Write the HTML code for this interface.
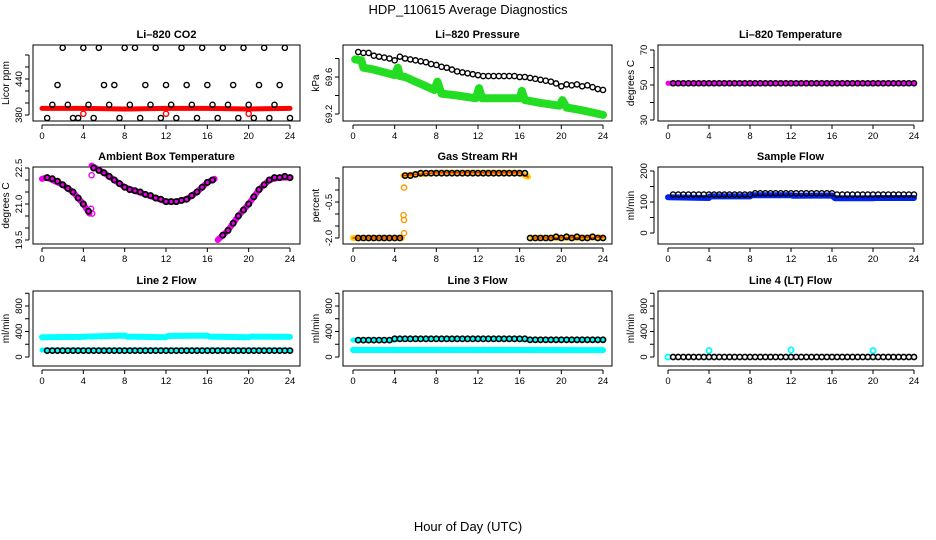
<!DOCTYPE html>
<html><head><meta charset="utf-8"><style>
body{margin:0;background:#fff;}
svg{display:block;font-family:"Liberation Sans",Arial,sans-serif;}
</style></head><body>
<svg id="chart" width="936" height="540" viewBox="0 0 936 540" xmlns="http://www.w3.org/2000/svg">
<rect x="0" y="0" width="936" height="540" fill="#fff"/>
<text x="468" y="14" text-anchor="middle" font-size="13">HDP_110615  Average Diagnostics</text>
<text x="468" y="531" text-anchor="middle" font-size="13">Hour of Day (UTC)</text>
</svg>
<script>
// Shared half-hour times for black averages
const hours = [0.5,1,1.5,2,2.5,3,3.5,4,4.5,5,5.5,6,6.5,7,7.5,8,8.5,9,9.5,10,10.5,11,11.5,12,12.5,13,13.5,14,14.5,15,15.5,16,16.5,17,17.5,18,18.5,19,19.5,20,20.5,21,21.5,22,22.5,23,23.5,24];
const xTicks = [0,4,8,12,16,20,24];

// Li-820 CO2
const co2Black = [375,397,430,492,397,375,375,492,397,375,492,430,397,430,375,492,397,492,375,430,397,492,375,430,397,375,492,430,397,375,492,430,397,375,492,397,430,375,492,397,375,430,492,375,397,430,492,375];
const co2BandH = [0,4,8,12,16,20,24];
const co2BandV = [391,391,390,391,391,390,391];
const co2RedH = [4,12,20];
const co2RedV = [382,382,382];
// Pressure
const presBlack = [69.87,69.86,69.86,69.83,69.82,69.81,69.80,69.78,69.82,69.80,69.79,69.78,69.77,69.76,69.74,69.73,69.71,69.70,69.68,69.66,69.65,69.64,69.63,69.62,69.61,69.61,69.61,69.61,69.61,69.61,69.61,69.60,69.60,69.59,69.58,69.57,69.56,69.55,69.53,69.50,69.52,69.51,69.52,69.50,69.51,69.49,69.47,69.46];
const presGreenH = [0.2,0.8,1,2,3,4,4.3,4.5,5,6,7,7.8,8.1,8.5,10,11.8,12.1,12.4,14,16,16.2,16.5,18,19.8,20.1,20.5,22,24];
const presGreenV = [69.79,69.78,69.70,69.68,69.65,69.62,69.70,69.61,69.60,69.55,69.50,69.46,69.55,69.42,69.40,69.37,69.48,69.37,69.37,69.37,69.45,69.35,69.32,69.29,69.35,69.27,69.24,69.19];
// Li-820 temperature
const tempBandH = [0,24];
const tempBandV = [51,51];
const tempBlack = hours.map(()=>51);
// Ambient box temperature
const ambBlack = [22.1,22.05,21.95,21.8,21.65,21.5,21.25,21.0,20.7,22.5,22.4,22.3,22.15,22.0,21.85,21.7,21.6,21.55,21.5,21.4,21.35,21.25,21.2,21.1,21.1,21.1,21.15,21.2,21.35,21.5,21.7,21.9,22.0,null,19.7,19.9,20.2,20.5,20.75,21.0,21.3,21.6,21.8,22.0,22.1,22.1,22.15,22.1];
const ambBandH = [0,0.5,1,2,3,4,4.6,null,4.8,6,8,10,12,13,14,15,16,16.7,null,17,18,19,20,21,22,23,24];
const ambBandV = [22.05,22.1,22.0,21.8,21.5,21.0,20.6,null,22.6,22.3,21.7,21.4,21.1,21.1,21.2,21.5,21.9,22.05,null,19.5,19.9,20.5,21.0,21.6,22.0,22.1,22.1];
// Gas stream RH
const rhBlack = [-2.0,-2.0,-2.0,-2.0,-2.0,-2.0,-2.0,-2.0,-2.0,0.6,0.6,0.65,0.7,0.7,0.7,0.7,0.7,0.7,0.7,0.7,0.7,0.7,0.7,0.7,0.7,0.7,0.7,0.7,0.7,0.7,0.7,0.7,0.7,-2.0,-2.0,-2.0,-2.0,-2.0,-1.95,-2.0,-1.95,-2.0,-1.95,-2.0,-2.0,-1.95,-2.0,-2.0];
const rhBandH = [0,4.7,null,4.85,6,8,16,16.8,null,17.2,24];
const rhBandV = [-2.0,-2.0,null,0.6,0.65,0.72,0.72,0.55,null,-2.0,-1.98];
const rhOddH = [4.9,4.85,4.9,4.9];
const rhOddV = [0.1,-1.05,-1.25,-1.8];
// Sample flow
const sfBlack = hours.map((h)=> (h>8&&h<16.5)?128:124);
const sfBandH = [0,4,4.1,8,8.2,12,12.2,16,16.3,20,20.2,24];
const sfBandV = [115,113,118,118,122,122,120,121,112,112,113,113];
// Line 2 flow
const l2Black = hours.map(()=>100);
const l2TopH = [0,4,4.2,8,8.2,12,12.2,16,16.2,20,20.2,24];
const l2TopV = [310,315,320,335,320,310,330,335,320,310,320,315];
const l2LowH = [0,24];
const l2LowV = [110,110];
// Line 3 flow
const l3Black = hours.map((h)=> (h<4)?265:(h>16.5&&h<24.1)?270:285);
const l3TopH = [0,4,4.1,16,16.2,24];
const l3TopV = [265,265,280,285,270,270];
const l3LowH = [0,24];
const l3LowV = [110,108];
// Line 4 flow
const l4Black = hours.map(()=>0);
const l4CyanH = [0,4,12,20];
const l4CyanV = [0,100,110,100];

const NS='http://www.w3.org/2000/svg';
const svg=document.getElementById('chart');
function mk(tag,attrs,parent){const e=document.createElementNS(NS,tag);for(const k in attrs)e.setAttribute(k,attrs[k]);(parent||svg).appendChild(e);return e;}

const colX0=[42,353,668], colX1=[290,603,914];
const boxL=[33,343,658], boxR=[300,612,923];
const rowT=[45,167,291], rowB=[121,244,366];

function panel(c,r,title,ylab,y,ticks,labels,fmt,name){
  const g=mk('g',{});
  
  
  const xs=h=>colX0[c]+h*(colX1[c]-colX0[c])/24;
  const b=mk('rect',{x:boxL[c],y:rowT[r],width:boxR[c]-boxL[c],height:rowB[r]-rowT[r],fill:'none',stroke:'#000','stroke-width':1},g);
  
  
  const t=mk('text',{x:(boxL[c]+boxR[c])/2,y:rowT[r]-7,'text-anchor':'middle','font-size':11,'font-weight':'bold'},g);
  t.textContent=title;
  
  
  const xb=rowB[r]+4;
  mk('line',{x1:xs(0),x2:xs(24),y1:xb,y2:xb,stroke:'#000'},g);
  xTicks.forEach(v=>{
    mk('line',{x1:xs(v),x2:xs(v),y1:xb,y2:xb+4,stroke:'#000'},g);
    const tl=mk('text',{x:xs(v),y:xb+14,'text-anchor':'middle','font-size':9.5},g);
    tl.textContent=v;
    
    
  });
  const ax=boxL[c]-4;
  mk('line',{x1:ax,x2:ax,y1:y(ticks[0]),y2:y(ticks[ticks.length-1]),stroke:'#000'},g);
  ticks.forEach(v=>mk('line',{x1:ax,x2:ax-4,y1:y(v),y2:y(v),stroke:'#000'},g));
  labels.forEach(v=>{
    const tl=mk('text',{x:0,y:0,'text-anchor':'middle','font-size':9.5,transform:`translate(${ax-7},${y(v)}) rotate(-90)`},g);
    tl.textContent=fmt(v);
    
    
  });
  const yl=mk('text',{x:0,y:0,'text-anchor':'middle','font-size':10,transform:`translate(${boxL[c]-24},${(rowT[r]+rowB[r])/2}) rotate(-90)`},g);
  yl.textContent=ylab;
  
  
  return {g,xs,y};
}
function band(p,H,V,color,w,name){
  let d='',pen=false;
  H.forEach((h,i)=>{ if(h===null||V[i]===null){pen=false;return;} d+=(pen?'L':'M')+p.xs(h).toFixed(1)+' '+p.y(V[i]).toFixed(1)+' '; pen=true;});
  const e=mk('path',{d:d,fill:'none',stroke:color,'stroke-width':w,'stroke-linecap':'round','stroke-linejoin':'round'},p.g);
  
  
}
function pts(p,H,V,color,name,sw){
  H.forEach((h,i)=>{ if(V[i]===null||h===null)return;
    const e=mk('circle',{cx:p.xs(h),cy:p.y(V[i]),r:2.6,fill:'none',stroke:color,'stroke-width':sw||1.4},p.g);
    
    
  });
}
const lin=(v0,p0,v1,p1)=>v=>p0+(v-v0)*(p1-p0)/(v1-v0);
const fmt1=v=>v.toFixed(1), fmt0=v=>String(v);

let p=panel(0,0,'Li\u2013820 CO2','Licor ppm',lin(380,115,440,79),[380,400,420,440,460,480],[380,440],fmt0,'panel-co2');
band(p,co2BandH,co2BandV,'#ff0000',5,'co2-band');
pts(p,co2RedH,co2RedV,'#ff0000','co2-red-point');
pts(p,hours,co2Black,'#000','co2-point');
p=panel(1,0,'Li\u2013820 Pressure','kPa',lin(69.2,114,69.6,77),[69.2,69.4,69.6,69.8],[69.2,69.6],fmt1,'panel-pressure');
band(p,presGreenH,presGreenV,'#22dd22',8,'pressure-band');
pts(p,hours,presBlack,'#000','pressure-point');
p=panel(2,0,'Li\u2013820 Temperature','degrees C',lin(30,120,70,50),[30,40,50,60,70],[30,50,70],fmt0,'panel-li820-temp');
band(p,tempBandH,tempBandV,'#ee00ee',5,'temp-band');
pts(p,hours,tempBlack,'#000','temp-point');
p=panel(0,1,'Ambient Box Temperature','degrees C',lin(19.5,240,22.5,168),[19.5,20,20.5,21,21.5,22,22.5],[19.5,21.0,22.5],fmt1,'panel-ambient-temp');
band(p,ambBandH,ambBandV,'#ee00ee',6,'ambient-band');
pts(p,[4.8,4.85,4.75],[22.2,20.6,20.8],'#ee00ee','ambient-outlier');
pts(p,hours,ambBlack,'#000','ambient-point',1.8);
p=panel(1,1,'Gas Stream RH','percent',lin(-2,238,-0.5,202),[-2,-1.5,-1,-0.5,0,0.5],[-2.0,-0.5],fmt1,'panel-rh');
band(p,rhBandH,rhBandV,'#ffcc00',6,'rh-band');
band(p,rhBandH,rhBandV,'#ff3300',1.5,'rh-band-core');
pts(p,rhOddH,rhOddV,'#ff9900','rh-outlier');
pts(p,hours,rhBlack,'#000','rh-point',1.6);
p=panel(2,1,'Sample Flow','ml/min',lin(0,233,200,171),[0,50,100,150,200],[0,100,200],fmt0,'panel-sample-flow');
band(p,sfBandH,sfBandV,'#0022ee',6,'sample-flow-band');
pts(p,hours,sfBlack,'#000','sample-flow-point');
const flowY=lin(0,357,800,306);
p=panel(0,2,'Line 2 Flow','ml/min',flowY,[0,200,400,600,800,1000],[0,400,800],fmt0,'panel-line2');
band(p,l2TopH,l2TopV,'#00ffff',6,'line2-top-band');
band(p,l2LowH,l2LowV,'#00ffff',5,'line2-low-band');
pts(p,hours,l2Black,'#000','line2-point',1.6);
p=panel(1,2,'Line 3 Flow','ml/min',flowY,[0,200,400,600,800,1000],[0,400,800],fmt0,'panel-line3');
band(p,l3TopH,l3TopV,'#00ffff',5,'line3-top-band');
band(p,l3LowH,l3LowV,'#00ffff',6,'line3-low-band');
pts(p,hours,l3Black,'#000','line3-point',1.6);
p=panel(2,2,'Line 4 (LT) Flow','ml/min',flowY,[0,200,400,600,800,1000],[0,400,800],fmt0,'panel-line4');
pts(p,l4CyanH,l4CyanV,'#00ffff','line4-cyan-point',1.8);
pts(p,hours,l4Black,'#000','line4-point',1.6);
</script>
</body></html>
